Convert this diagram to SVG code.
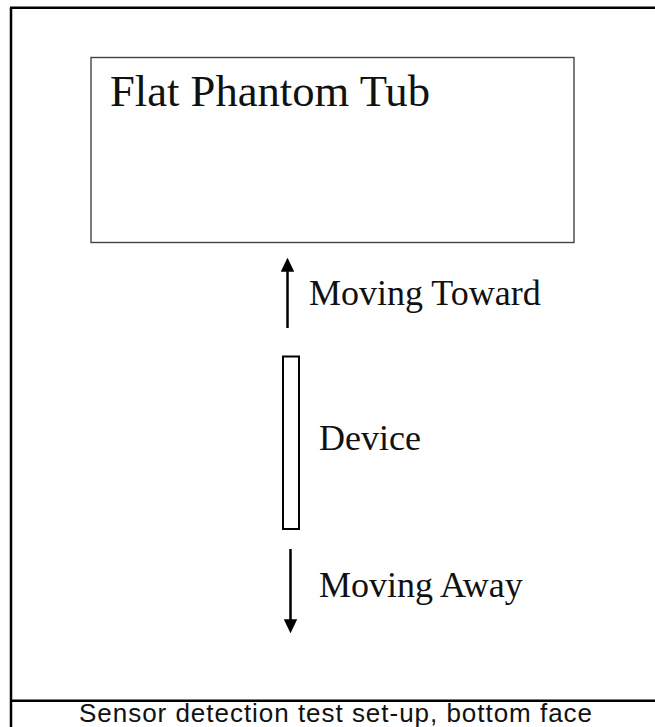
<svg xmlns="http://www.w3.org/2000/svg" width="655" height="727" viewBox="0 0 655 727">
  <style>
    .frame { stroke: #000; stroke-width: 2.5; fill: none; }
    .serif { font-family: "Liberation Serif", "Times New Roman", serif; fill: #111; }
    .sans { font-family: "Liberation Sans", Arial, sans-serif; fill: #111; }
    .conn { stroke: #000; stroke-width: 2.5; fill: none; }
  </style>
  <defs>
    <marker id="arrow" viewBox="0 0 10 10" refX="0.5" refY="5" markerWidth="5.6" markerHeight="5.4" markerUnits="strokeWidth" orient="auto" preserveAspectRatio="none">
      <path d="M0,0 L10,5 L0,10 z" fill="#000"/>
    </marker>
  </defs>
  <rect x="0" y="0" width="655" height="727" fill="#fff"/>
  <g id="frame">
    <line class="frame" x1="11" y1="7.5" x2="11" y2="727"/>
    <line class="frame" x1="10" y1="7.8" x2="655" y2="7.8"/>
    <line class="frame" x1="10" y1="700.7" x2="655" y2="700.7"/>
  </g>
  <g id="tub">
    <rect x="91" y="57.5" width="483" height="185" fill="#fff" stroke="#444" stroke-width="1.4"/>
    <text class="serif" x="110" y="106" font-size="44" textLength="320" lengthAdjust="spacingAndGlyphs">Flat Phantom Tub</text>
  </g>
  <g id="device">
    <rect x="283" y="356.5" width="16" height="172.5" fill="#fff" stroke="#000" stroke-width="2"/>
    <text class="serif" x="319" y="450" font-size="36">Device</text>
  </g>
  <g id="connectors">
    <line class="conn" x1="287.5" y1="328" x2="287.5" y2="271" marker-end="url(#arrow)"/>
    <line class="conn" x1="290.5" y1="549" x2="290.5" y2="620" marker-end="url(#arrow)"/>
  </g>
  <g id="labels">
    <text class="serif" x="309" y="305" font-size="36">Moving Toward</text>
    <text class="serif" x="319" y="597" font-size="36">Moving Away</text>
  </g>
  <g id="caption">
    <text class="sans" x="79" y="721.5" font-size="26" textLength="513" lengthAdjust="spacing">Sensor detection test set-up, bottom face</text>
  </g>
</svg>
